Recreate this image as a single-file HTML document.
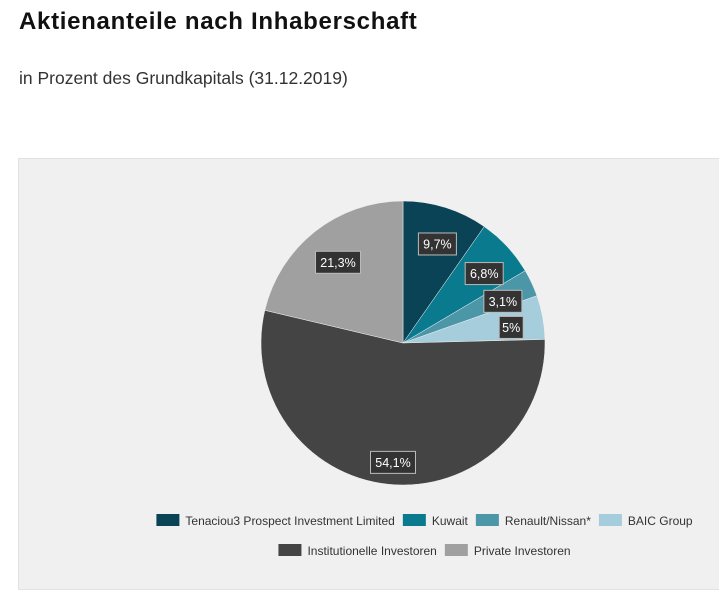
<!DOCTYPE html>
<html><head><meta charset="utf-8"><style>
body{margin:0;width:719px;height:583px;background:#fff;font-family:"Liberation Sans",sans-serif;overflow:hidden;position:relative}
h1{position:absolute;left:19px;top:8px;margin:0;font-size:24px;letter-spacing:0.7px;font-weight:bold;color:#111}
.sub{position:absolute;left:19px;top:68px;font-size:17.5px;color:#333}
#panel{position:absolute;left:18px;top:158px;width:710px;height:430px;background:#f0f0f0;border:1px solid #e2e2e2}
svg{position:absolute;left:0;top:0}
</style></head><body>
<h1>Aktienanteile nach Inhaberschaft</h1>
<div class="sub">in Prozent des Grundkapitals (31.12.2019)</div>
<div id="panel"></div>
<svg id="chart" width="719" height="583"></svg>
<script>
const categories=["Tenaciou3 Prospect Investment Limited","Kuwait","Renault/Nissan*","BAIC Group","Institutionelle Investoren","Private Investoren"];
const values=[9.7,6.8,3.1,5,54.1,21.3];
const labels=["9,7%","6,8%","3,1%","5%","54,1%","21,3%"];
const colors=["#0a4256","#0a7a8e","#4b97a8","#a6cddb","#444444","#a0a0a0"];
const NS="http://www.w3.org/2000/svg";
const svg=document.getElementById('chart');
const cx=403,cy=343,R=142,LR=108;
const total=values.reduce((a,b)=>a+b,0);
function pt(a,r){return [cx+r*Math.sin(a),cy-r*Math.cos(a)];}
let acc=0;
const labelLayer=[];
values.forEach((v,i)=>{
  const a0=acc/total*2*Math.PI; acc+=v; const a1=acc/total*2*Math.PI;
  const [x0,y0]=pt(a0,R),[x1,y1]=pt(a1,R);
  const p=document.createElementNS(NS,'path');
  p.setAttribute('d',`M${cx},${cy}L${x0},${y0}A${R},${R} 0 ${a1-a0>Math.PI?1:0} 1 ${x1},${y1}Z`);
  p.setAttribute('fill',colors[i]);
  p.setAttribute('stroke','#f0f0f0');p.setAttribute('stroke-width','0.5');
  
  
  svg.appendChild(p);
  labelLayer.push([(a0+a1)/2,i]);
});
labelLayer.forEach(([am,i])=>{
  let [lx,ly]=pt(am,i===4?116:LR);
  lx+=2; ly+=4;
  const w=labels[i].length*7+10;
  const g=document.createElementNS(NS,'g');
  
  
  const r=document.createElementNS(NS,'rect');
  r.setAttribute('x',lx-w/2);r.setAttribute('y',ly-11);r.setAttribute('width',w);r.setAttribute('height',22);
  r.setAttribute('fill','#333');r.setAttribute('stroke','#bbb');r.setAttribute('stroke-width','1');
  g.appendChild(r);
  const t=document.createElementNS(NS,'text');
  t.setAttribute('x',lx);t.setAttribute('y',ly+4.5);t.setAttribute('text-anchor','middle');
  t.setAttribute('font-size','12.5');t.setAttribute('fill','#fff');
  t.textContent=labels[i];g.appendChild(t);svg.appendChild(g);
});
// legend
const rows=[[0,1,2,3],[4,5]];
const rowY=[520,550];
const ctx=document.createElement('canvas').getContext('2d');ctx.font='12px "Liberation Sans"';
rows.forEach((row,ri)=>{
  const widths=row.map(i=>24+6+ctx.measureText(categories[i]).width);
  const tw=widths.reduce((a,b)=>a+b,0)+(row.length-1)*7;
  let x=425-tw/2;
  row.forEach((i,k)=>{
    const g=document.createElementNS(NS,'g');
    
    
    const r=document.createElementNS(NS,'rect');
    r.setAttribute('x',x);r.setAttribute('y',rowY[ri]-6);r.setAttribute('width',23);r.setAttribute('height',12);r.setAttribute('fill',colors[i]);
    g.appendChild(r);
    const t=document.createElementNS(NS,'text');
    t.setAttribute('x',x+29);t.setAttribute('y',rowY[ri]+5);t.setAttribute('font-size','12');t.setAttribute('fill','#333');
    t.textContent=categories[i];g.appendChild(t);svg.appendChild(g);
    x+=widths[k]+7;
  });
});
</script>
</body></html>
